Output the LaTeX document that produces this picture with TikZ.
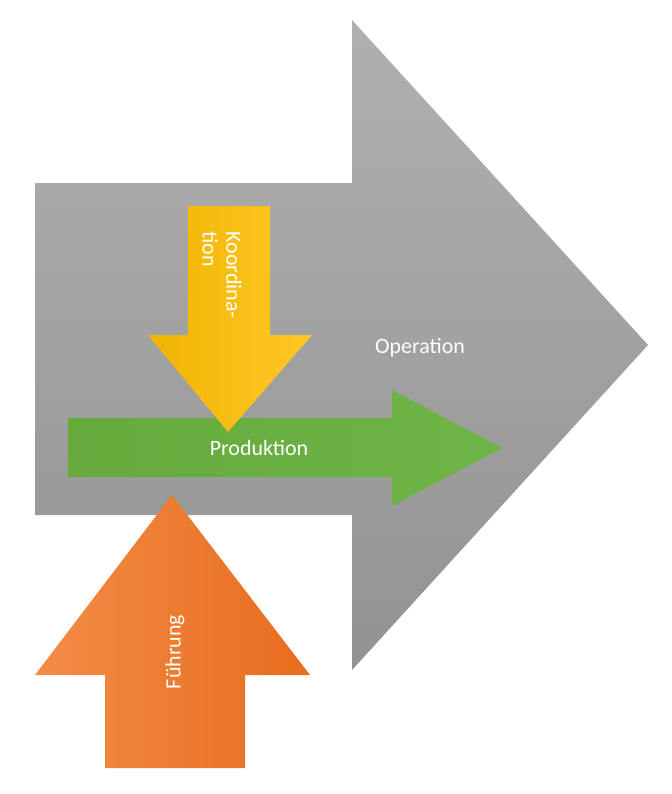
\documentclass[tikz,border=0pt]{standalone}
\usepackage{fontspec}
\setmainfont{Carlito}
\begin{document}
\begin{tikzpicture}[x=1bp,y=-1bp,
  lbl/.style={text=white,font=\fontsize{22}{24}\selectfont},
  arr/.style={draw=none}]
\useasboundingbox (0,0) rectangle (672,794);
% gray big arrow
\shade[top color=gray!62,bottom color=gray!85] (35,183) -- (352,183) -- (352,20) -- (648,345) -- (352,670) -- (352,515) -- (35,515) -- cycle;
% green arrow
\shade[left color=green!45!black!75!white,right color=green!55!black!70!white,
  left color={rgb,255:red,102;green,170;blue,60},right color={rgb,255:red,110;green,180;blue,70}]
  (68,418) -- (392,418) -- (392,390) -- (502,448) -- (392,506) -- (392,477) -- (68,477) -- cycle;
% yellow arrow
\shade[left color={rgb,255:red,240;green,180;blue,0},right color={rgb,255:red,255;green,200;blue,40}]
  (188,206) -- (270,206) -- (270,335) -- (312,335) -- (228,432) -- (148,335) -- (188,335) -- cycle;
% orange arrow
\shade[left color={rgb,255:red,242;green,140;blue,70},right color={rgb,255:red,232;green,108;blue,30}]
  (105,768) -- (245,768) -- (245,675) -- (310,675) -- (172,495) -- (35,675) -- (105,675) -- cycle;
\node[lbl] (op) at (420,348) {Operation};
\node[lbl] (pr) at (259,448) {Produktion};
\node[lbl,rotate=-90,align=left] (ko) at (222,275) {Koordina-\\tion};
\node[lbl,rotate=90] (fu) at (175,652) {Führung};
\end{tikzpicture}
\end{document}
